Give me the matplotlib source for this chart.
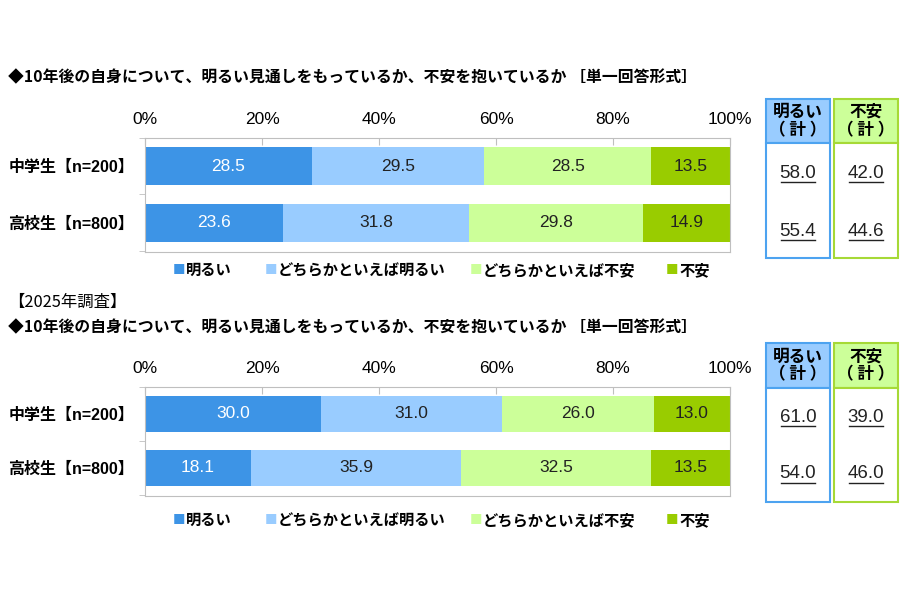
import matplotlib.pyplot as plt
from matplotlib.patches import Rectangle
from matplotlib.lines import Line2D

plt.rcParams['font.family'] = ['Noto Sans CJK JP', 'DejaVu Sans']

# --- data ---
groups = ['中学生【n=200】', '高校生【n=800】']
series = ['明るい', 'どちらかといえば明るい', 'どちらかといえば不安', '不安']
colors = ['#3d94e6', '#99ccff', '#ccff99', '#99cc00']
label_colors = ['white', '#222222', '#222222', '#222222']

title = '◆10年後の自身について、明るい見通しをもっているか、不安を抱いているか ［単一回答形式］'
survey_2025 = '【2025年調査】'

vals_prev = [[28.5, 23.6], [29.5, 31.8], [28.5, 29.8], [13.5, 14.9]]
bright_prev = [58.0, 55.4]
anx_prev = [42.0, 44.6]

vals_2025 = [[30.0, 18.1], [31.0, 35.9], [26.0, 32.5], [13.0, 13.5]]
bright_2025 = [61.0, 54.0]
anx_2025 = [39.0, 46.0]

ticks = [0, 20, 40, 60, 80, 100]

LATIN = ['Liberation Sans', 'DejaVu Sans']
MIXED = ['Liberation Sans', 'Noto Sans CJK JP']
W, H = 900, 600
fig = plt.figure(figsize=(9, 6), dpi=100)


def fx(x):
    return x / W


def fy(y):
    return 1 - y / H


def draw_panel(top, bot, title_y, legend_y, box_top, box_hdr, box_bot, val_ys, vals, bright, anx):
    fig.text(fx(8), fy(title_y), title, fontsize=11.4, fontweight='bold', va='center', ha='left')

    ax = fig.add_axes([fx(145), fy(bot), fx(730) - fx(145), (bot - top) / H])
    left = [0, 0]
    for v, c, tc in zip(vals, colors, label_colors):
        ax.barh([0, 1], v, left=left, height=0.67, color=c, edgecolor='none')
        for i in range(2):
            ax.text(left[i] + v[i] / 2, i, f'{v[i]:.1f}', ha='center', va='center',
                    fontsize=12.5, color=tc, family=LATIN)
        left = [left[i] + v[i] for i in range(2)]

    ax.set_xlim(0, 100)
    ax.set_ylim(1.52, -0.5)
    ax.xaxis.tick_top()
    ax.set_xticks(ticks)
    ax.set_xticklabels([f'{t}%' for t in ticks], fontsize=12.5, family=LATIN)
    ax.tick_params(axis='x', direction='in', length=5, pad=8, color='#bfbfbf')
    ax.set_yticks([0, 1])
    ax.set_yticklabels(groups, fontsize=11.5, fontweight='bold', family=MIXED)
    ax.tick_params(axis='y', length=0, pad=8)
    ax.set_yticks([-0.5, 0.5, 1.5], minor=True)
    ax.tick_params(axis='y', which='minor', direction='out', length=4, color='#bfbfbf')
    for sp in ax.spines.values():
        sp.set_color('#bfbfbf')

    # legend
    leg_x = [173, 265, 470, 666]
    for x, name, c in zip(leg_x, series, colors):
        fig.text(fx(x), fy(legend_y), '■', color=c, fontsize=9, va='center', ha='left')
        fig.text(fx(x + 13), fy(legend_y), name, fontsize=11, fontweight='bold', va='center', ha='left')

    # total boxes
    boxes = [(766, 830, '#99ccff', '#4da3f0', '明るい\n（ 計 ）', bright),
             (834, 898, '#ccff99', '#a6d936', '不安\n（ 計 ）', anx)]
    for x0, x1, fill, edge, head, nums in boxes:
        fig.add_artist(Rectangle((fx(x0), fy(box_hdr)), fx(x1 - x0), (box_hdr - box_top) / H,
                                 transform=fig.transFigure, facecolor=fill, edgecolor=edge, lw=1.5))
        fig.add_artist(Rectangle((fx(x0), fy(box_bot)), fx(x1 - x0), (box_bot - box_hdr) / H,
                                 transform=fig.transFigure, facecolor='white', edgecolor=edge, lw=1.5))
        cx = (x0 + x1) / 2
        fig.text(fx(cx), fy((box_top + box_hdr) / 2), head, fontsize=12, fontweight='bold',
                 ha='center', va='center', linespacing=1.0)
        for vy, n in zip(val_ys, nums):
            fig.text(fx(cx), fy(vy), f'{n:.1f}', fontsize=13.5, ha='center', va='center',
                     family=LATIN, color='#222222')
            fig.add_artist(Line2D([fx(cx - 17), fx(cx + 17)], [fy(vy + 9), fy(vy + 9)],
                                  transform=fig.transFigure, color='#222222', lw=1))


draw_panel(138, 252, 77, 270, 99, 143, 258, [173, 231], vals_prev, bright_prev, anx_prev)
fig.text(fx(8), fy(302), survey_2025, fontsize=11.8, va='center', ha='left')
draw_panel(387, 496, 327, 520, 343, 388, 502, [417, 474], vals_2025, bright_2025, anx_2025)

fig.savefig('out.png', dpi=100, facecolor='white')
